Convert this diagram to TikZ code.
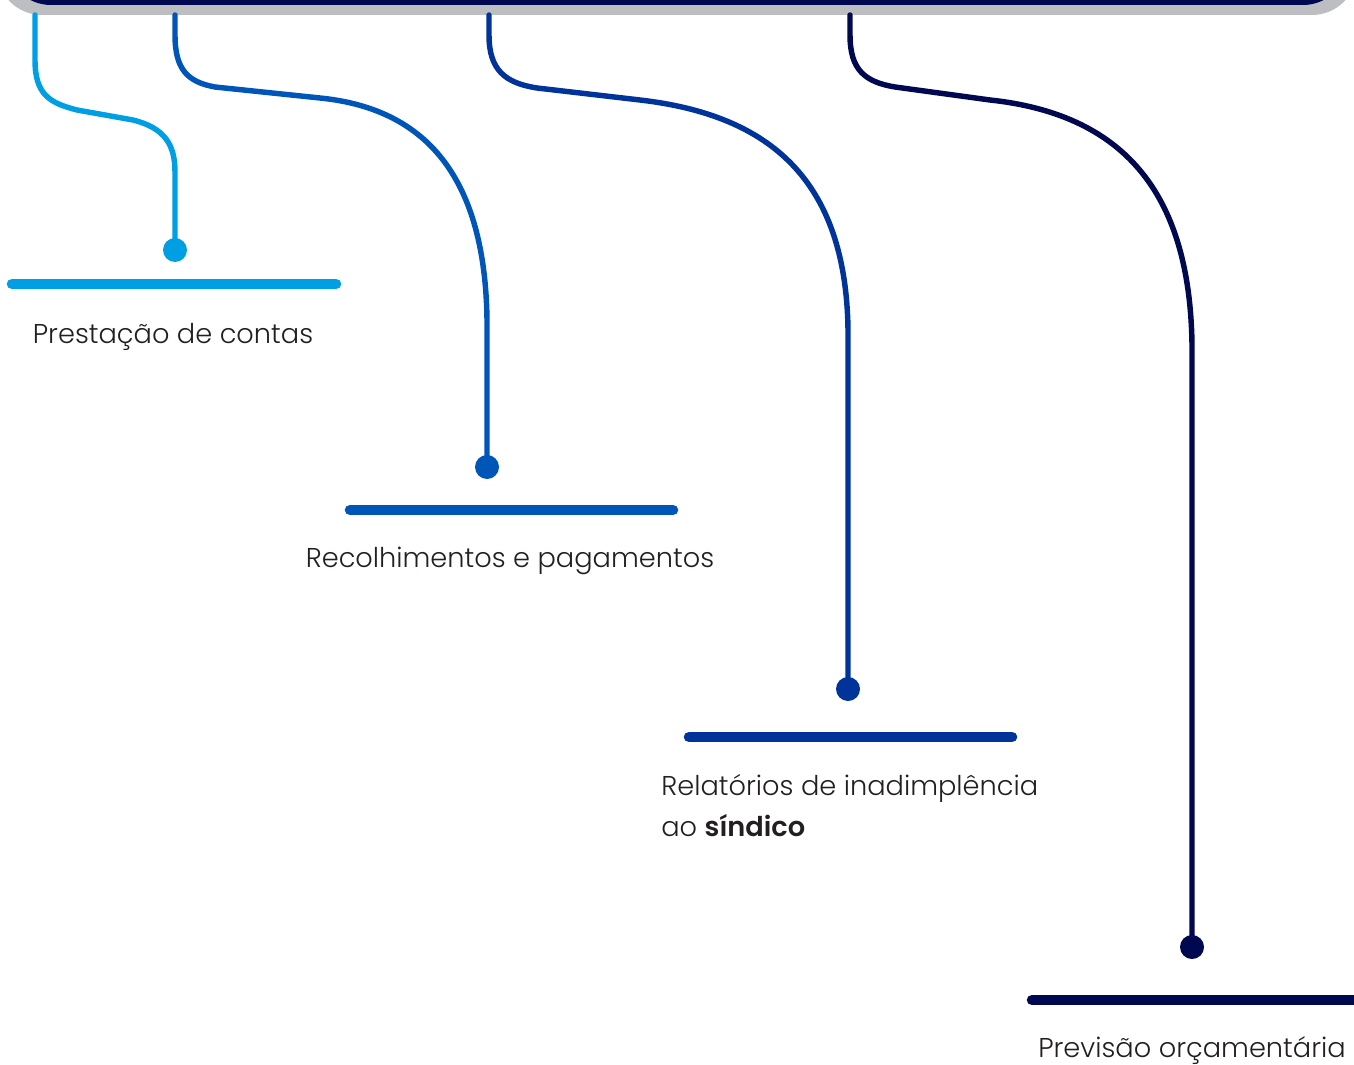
\documentclass[tikz,border=0pt]{standalone}
\usepackage{fontspec}
\setmainfont{Poppins Light}[BoldFont=Poppins SemiBold]
\usetikzlibrary{positioning}

\definecolor{sky}{HTML}{009FE3}
\definecolor{royal}{HTML}{0055B8}
\definecolor{cobalt}{HTML}{00349A}
\definecolor{navy}{HTML}{000850}
\definecolor{greyband}{HTML}{BDBEC2}
\definecolor{ink}{HTML}{231F20}

\begin{document}
\begin{tikzpicture}[x=0.02cm, y=-0.02cm,
	wire/.style={line width=3.1pt, line cap=round},
	bar/.style={line width=6pt, line cap=round},
	dot/.style={circle, fill, inner sep=0pt, minimum size=0.48cm},
	lbl/.style={font=\fontsize{15.5}{23}\selectfont, text=ink, inner sep=0pt}]
	
	\useasboundingbox (0,0) rectangle (1354,1064);
	
	% Header box
	\fill[greyband, rounded corners=0.9cm] (-3,-100) rectangle (1357,15);
	\fill[navy, rounded corners=0.9cm] (6,-100) rectangle (1348,5);
	
	% Start points
	\coordinate (t1) at (35,15);
	\coordinate (t2) at (175,15);
	\coordinate (t3) at (489,15);
	\coordinate (t4) at (850,15);
	
	% Dots
	\node[dot, sky] (d1) at (175,250) {};
	\node[dot, royal] (d2) at (487,467) {};
	\node[dot, cobalt] (d3) at (848,689) {};
	\node[dot, navy] (d4) at (1192,947) {};
	
	% Wires
	\draw[wire, sky] (t1) -- (35,60) .. controls (35,95) and (50,103) .. (77,110) -- (133,120) .. controls (165,128) and (175,145) .. (175,172) -- (d1.center);
	\draw[wire, royal] (t2) -- (175,35) .. controls (175,70) and (188,82) .. (215,87) -- (320,98) .. controls (420,108) and (485,170) .. (487,320) -- (d2.center);
	\draw[wire, cobalt] (t3) -- (489,35) .. controls (489,70) and (505,83) .. (537,88) -- (640,100) .. controls (770,115) and (846,180) .. (848,330) -- (d3.center);
	\draw[wire, navy] (t4) -- (850,35) .. controls (850,70) and (865,82) .. (895,87) -- (990,100) .. controls (1130,115) and (1190,200) .. (1192,345) -- (d4.center);
	
	% Bars
	\draw[bar, sky] (12,284) -- (336,284);
	\draw[bar, royal] (350,510) -- (673,510);
	\draw[bar, cobalt] (689,737) -- (1012,737);
	\draw[bar, navy] (1032,1000) -- (1360,1000);
	
	% Labels
	\node[lbl, anchor=base] (l1) at (173,343) {Prestação de contas};
	\node[lbl, anchor=base] (l2) at (510,567) {Recolhimentos e pagamentos};
	\node[lbl, anchor=base west, align=left] (l3) at (661,836) {Relatórios de inadimplência\\ao \textbf{síndico}};
	\node[lbl, anchor=base] (l4) at (1192,1057) {Previsão orçamentária};
\end{tikzpicture}
\end{document}
